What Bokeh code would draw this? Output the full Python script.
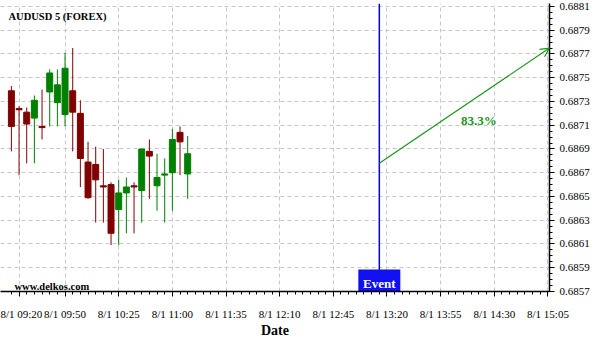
from bokeh.plotting import figure
from bokeh.models import Range1d, FixedTicker, PrintfTickFormatter, Span, Arrow, OpenHead, Label
from bokeh.embed import file_html
from bokeh.resources import INLINE
from bokeh.core.properties import value

# ---------------- data ----------------
title_text = "AUDUSD 5 (FOREX)"
watermark_text = "www.delkos.com"

times = ["09:15", "09:20", "09:25", "09:30", "09:35", "09:40", "09:45", "09:50",
         "09:55", "10:00", "10:05", "10:10", "10:15", "10:20", "10:25", "10:30",
         "10:35", "10:40", "10:45", "10:50", "10:55", "11:00", "11:05", "11:10"]
opens = [0.68739, 0.68724, 0.68721, 0.68716, 0.68709, 0.68738, 0.68729, 0.68719,
         0.68739, 0.68720, 0.68679, 0.68677, 0.68659, 0.68660, 0.68639, 0.68653,
         0.68659, 0.68655, 0.68688, 0.68659, 0.68668, 0.68670, 0.68704, 0.68669]
closes = [0.68709, 0.68723, 0.68711, 0.68731, 0.68708, 0.68754, 0.68744, 0.68758,
          0.68721, 0.68682, 0.68649, 0.68664, 0.68658, 0.68619, 0.68653, 0.68658,
          0.68658, 0.68690, 0.68684, 0.68666, 0.68669, 0.68698, 0.68696, 0.68686]
highs = [0.68743, 0.68726, 0.68725, 0.68735, 0.68740, 0.68757, 0.68757, 0.68771,
         0.68775, 0.68731, 0.68696, 0.68692, 0.68690, 0.68662, 0.68664, 0.68666,
         0.68662, 0.68690, 0.68698, 0.68686, 0.68682, 0.68707, 0.68709, 0.68701]
lows = [0.68688, 0.68668, 0.68678, 0.68678, 0.68698, 0.68709, 0.68709, 0.68709,
        0.68688, 0.68658, 0.68648, 0.68628, 0.68628, 0.68609, 0.68609, 0.68619,
        0.68619, 0.68628, 0.68648, 0.68638, 0.68628, 0.68638, 0.68668, 0.68648]

x_tick_labels = ["8/1 09:20", "8/1 09:50", "8/1 10:25", "8/1 11:00", "8/1 11:35",
                 "8/1 12:10", "8/1 12:45", "8/1 13:20", "8/1 13:55", "8/1 14:30",
                 "8/1 15:05"]
y_tick_values = [0.6857, 0.6859, 0.6861, 0.6863, 0.6865, 0.6867, 0.6869,
                 0.6871, 0.6873, 0.6875, 0.6877, 0.6879, 0.6881]

event_time = "13:15"
event_text = "Event"
forecast_start_time, forecast_start_value = "13:15", 0.68678
forecast_end_time, forecast_end_value = "15:06", 0.68775
forecast_text = "83.3%"
forecast_text_time, forecast_text_value = "14:20", 0.68714

# ---------------- helpers ----------------
def to_min(s):
    h, m = s.split(":")
    return int(h) * 60 + int(m)

BULL = "#008000"
BEAR = "#800000"
GREEN = "#1a961a"
SERIF = "Liberation Serif"

x = [to_min(t) for t in times]
colors = [BULL if c >= o else BEAR for o, c in zip(opens, closes)]
tops = [max(o, c) for o, c in zip(opens, closes)]
bottoms = [min(o, c) for o, c in zip(opens, closes)]

x_ticks = [to_min(lbl.split(" ")[1]) for lbl in x_tick_labels]

p = figure(width=600, height=340, output_backend="svg", toolbar_location=None,
           x_range=Range1d(547.9, 906.0),
           y_range=Range1d(y_tick_values[0], 0.688125),
           y_axis_location="right",
           min_border_left=0, min_border_top=3, min_border_right=51, min_border_bottom=45,
           background_fill_color="white", border_fill_color="white",
           outline_line_color=None)

# grid
for g in (p.xgrid, p.ygrid):
    g.grid_line_color = "#c8c8c8"
    g.grid_line_dash = "4 3"
    g.grid_line_width = 1

# x axis
p.xaxis.ticker = FixedTicker(ticks=x_ticks,
                             minor_ticks=list(range(to_min(times[0]), 906, 5)))
p.xaxis.major_label_overrides = {t: lbl for t, lbl in zip(x_ticks, x_tick_labels)}
p.xaxis.axis_label = "Date"
p.xaxis.axis_label_text_font = SERIF
p.xaxis.axis_label_text_font_style = "bold"
p.xaxis.axis_label_text_font_size = "14px"
p.xaxis.axis_label_text_color = "black"
p.xaxis.axis_label_standoff = 0

# y axis
y_minor = [round(y_tick_values[0] + i * 0.00005, 5) for i in range(0, 49)]
p.yaxis.ticker = FixedTicker(ticks=y_tick_values, minor_ticks=y_minor)
p.yaxis.formatter = PrintfTickFormatter(format="%.4f")

for ax in (p.xaxis, p.yaxis):
    ax.axis_line_color = "black"
    ax.axis_line_width = 1.5
    ax.major_tick_line_color = "black"
    ax.minor_tick_line_color = "black"
    ax.major_tick_in = 0
    ax.major_tick_out = 5
    ax.minor_tick_in = 0
    ax.minor_tick_out = 3
    ax.major_label_text_font = SERIF
    ax.major_label_text_font_size = "11px"
    ax.major_label_text_color = "black"
    ax.major_label_standoff = 5
p.xaxis.major_label_standoff = 11

# event line
span = Span(location=to_min(event_time), dimension="height",
            line_color="#0000e0", line_width=1.5, level="underlay")
p.add_layout(span)

# candles
p.segment(x0=x, y0=highs, x1=x, y1=lows, line_color=colors, line_width=1)
p.vbar(x=x, width=3.9, top=tops, bottom=bottoms, fill_color=colors,
       line_color=colors, line_width=1)

# event box
p.rect(x=[to_min(event_time)], y=[y_tick_values[0]], width=42, height=44,
       width_units="screen", height_units="screen",
       fill_color="#1010f0", line_color=None)
p.text(x=[to_min(event_time)], y=[y_tick_values[0]], text=[event_text],
       text_color="white", text_font=value(SERIF), text_font_style="bold",
       text_font_size="13px", text_align="center", text_baseline="middle",
       y_offset=-8)

# forecast arrow
p.add_layout(Arrow(end=OpenHead(size=9, line_color=GREEN, line_width=1.2),
                   x_start=to_min(forecast_start_time), y_start=forecast_start_value,
                   x_end=to_min(forecast_end_time), y_end=forecast_end_value,
                   line_color=GREEN, line_width=1.2))
p.add_layout(Label(x=to_min(forecast_text_time), y=forecast_text_value, text=forecast_text,
                   text_color=GREEN, text_font=SERIF, text_font_style="bold",
                   text_font_size="13px", text_align="center", text_baseline="middle"))

# title and watermark
p.add_layout(Label(x=8, y=275, x_units="screen", y_units="screen", text=title_text,
                   text_font=SERIF, text_font_style="bold", text_font_size="10.5px",
                   text_color="black", text_baseline="middle"))
p.add_layout(Label(x=14, y=5, x_units="screen", y_units="screen", text=watermark_text,
                   text_font=SERIF, text_font_style="bold", text_font_size="10.5px",
                   text_color="black", text_baseline="middle"))

open("out.html", "w").write(file_html(p, INLINE))
